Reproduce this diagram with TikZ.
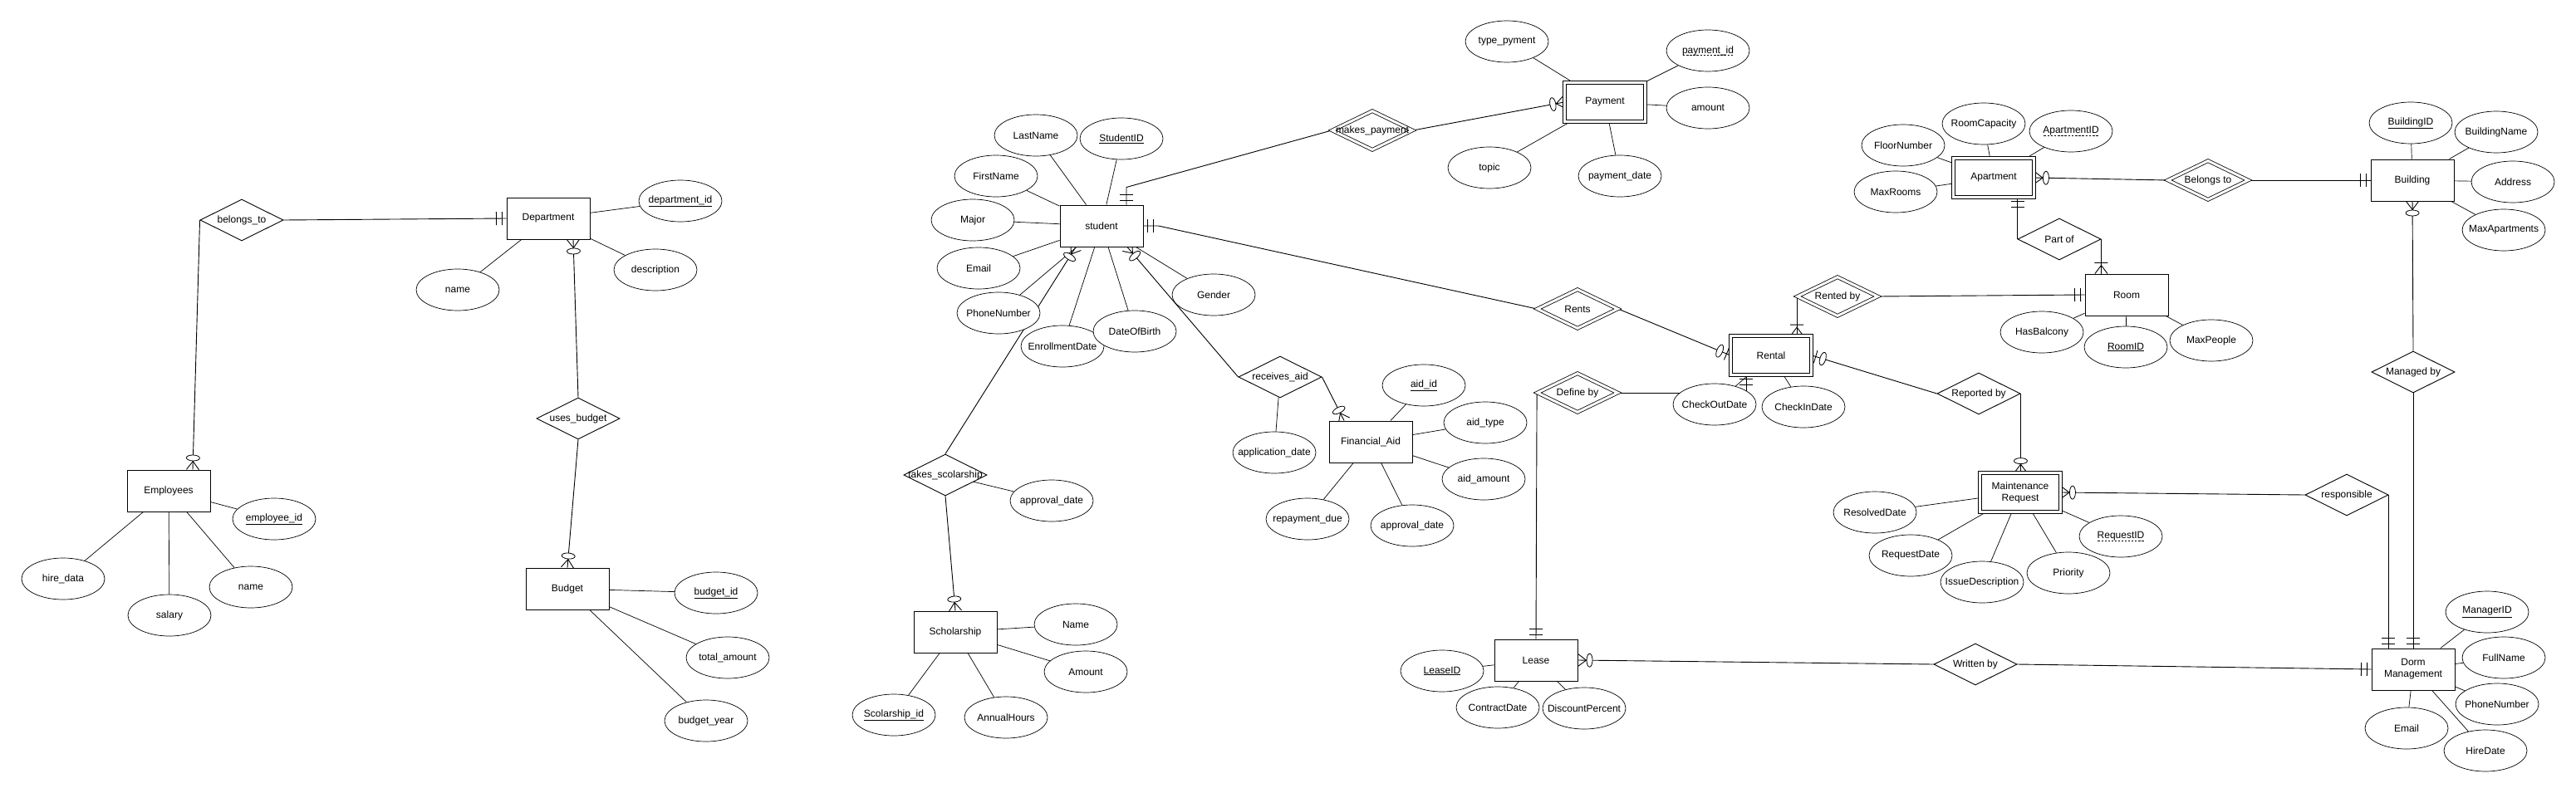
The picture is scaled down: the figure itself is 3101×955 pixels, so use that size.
\documentclass[tikz,border=0pt]{standalone}
\usepackage{fontspec}
\setmainfont{Liberation Sans}
\usetikzlibrary{shapes.geometric, decorations.markings, backgrounds}

% text that does not widen its shape
\newcommand{\zw}[1]{\makebox[0pt]{#1}}
% dashed underline for partial keys
\newcommand{\dashul}[1]{\setbox0=\hbox{#1}\rlap{\raisebox{-2.5pt}{\hbox to \wd0{\xleaders\hbox to 4pt{\hss\vrule height 0.8pt width 2.5pt\hss}\hfill}}}\box0}

\tikzset{
	ent/.style = {draw, rectangle, line width=1pt, fill=white, minimum width=100pt, minimum height=50pt, inner sep=2pt, align=center},
	weak/.style = {ent, double, double distance=3pt, line width=0.8pt, minimum width=97pt, minimum height=47pt},
	attr/.style = {draw, ellipse, line width=0.7pt, fill=white, minimum width=100pt, minimum height=50pt, inner sep=0pt},
	rel/.style = {draw, diamond, line width=0.9pt, fill=white, minimum width=100pt, minimum height=50pt, inner sep=0pt},
	idrel/.style = {rel, double, double distance=3pt, line width=0.8pt, minimum width=97pt, minimum height=47pt},
	link/.style = {line width=0.9pt},
	att/.style = {line width=0.7pt},
	endmark/.style = {postaction={decorate, decoration={markings, mark=at position 1 with {#1}}}},
	% zero or many
	zm/.style = {endmark={\draw[line width=0.9pt] (0pt,-7.5pt) -- (-10pt,0pt) -- (0pt,7.5pt);
		\draw[line width=0.8pt, fill=white] (-14pt,0pt) ellipse (3.5pt and 8pt);}},
	% one and only one
	mo/.style = {endmark={\draw[line width=0.9pt] (-5pt,-8pt) -- (-5pt,8pt) (-12pt,-8pt) -- (-12pt,8pt);}},
	% zero or one
	zo/.style = {endmark={\draw[line width=0.9pt] (-5pt,-8pt) -- (-5pt,8pt);
		\draw[line width=0.8pt, fill=white] (-14pt,0pt) ellipse (3.5pt and 8pt);}},
	% one or many
	om/.style = {endmark={\draw[line width=0.9pt] (0pt,-7.5pt) -- (-10pt,0pt) -- (0pt,7.5pt) (-13pt,-8pt) -- (-13pt,8pt);}},
}

\begin{document}
\begin{tikzpicture}[x=1pt, y=-1pt, font=\fontsize{12}{14}\selectfont]
	\useasboundingbox (0,0) rectangle (3101,955);

	% department side
	\node[rel] (belong) at (291,265) {\zw{belongs\_to}};
	\node[ent] (dept) at (660,263) {Department};
	\node[attr] (deptid) at (819,242) {\zw{\underline{department\_id}}};
	\node[attr] (dname) at (551,349) {\zw{name}};
	\node[attr] (ddesc) at (789,325) {\zw{description}};
	\node[rel] (usebud) at (696,504) {\zw{uses\_budget}};
	\node[ent] (budget) at (683,709) {Budget};
	\node[attr] (budid) at (862,714) {\zw{\underline{budget\_id}}};
	\node[attr] (budtot) at (876,792) {\zw{total\_amount}};
	\node[attr] (budyear) at (850,868) {\zw{budget\_year}};
	\node[ent] (emp) at (203,591) {Employees};
	\node[attr] (empid) at (330,625) {\zw{\underline{employee\_id}}};
	\node[attr] (hire) at (76,697) {\zw{hire\_data}};
	\node[attr] (salary) at (204,741) {\zw{salary}};
	\node[attr] (ename) at (302,707) {\zw{name}};

	% student side
	\node[ent] (stud) at (1326,272) {student};
	\node[attr] (lname) at (1247,163) {\zw{LastName}};
	\node[attr] (sid) at (1350,167) {\zw{\underline{StudentID}}};
	\node[attr] (fname) at (1199,212) {\zw{FirstName}};
	\node[attr] (major) at (1171,265) {\zw{Major}};
	\node[attr] (email) at (1178,323) {\zw{Email}};
	\node[attr] (phone) at (1202,377) {\zw{PhoneNumber}};
	\node[attr] (enroll) at (1279,417) {\zw{EnrollmentDate}};
	\node[attr] (dob) at (1366,399) {\zw{DateOfBirth}};
	\node[attr] (gender) at (1461,355) {\zw{Gender}};

	\node[idrel] (mpay) at (1652,157) {\zw{makes\_payment}};
	\node[weak] (pay) at (1932,123) {Payment};
	\node[attr] (ptype) at (1814,50) {\zw{type\_pyment}};
	\node[attr] (pid) at (2056,61) {\zw{\dashul{payment\_id}}};
	\node[attr] (pamount) at (2056,130) {\zw{amount}};
	\node[attr] (ptopic) at (1793,202) {\zw{topic}};
	\node[attr] (pdate) at (1950,212) {\zw{payment\_date}};

	\node[rel] (recaid) at (1541,454) {\zw{receives\_aid}};
	\node[attr] (appdate) at (1534,545) {\zw{application\_date}};
	\node[ent] (finaid) at (1650,532) {Financial\_Aid};
	\node[attr] (aidid) at (1714,464) {\zw{\underline{aid\_id}}};
	\node[attr] (aidtype) at (1788,509) {\zw{aid\_type}};
	\node[attr] (aidamt) at (1786,577) {\zw{aid\_amount}};
	\node[attr] (repay) at (1574,625) {\zw{repayment\_due}};
	\node[attr] (faappr) at (1700,633) {\zw{approval\_date}};

	\node[rel] (takesch) at (1138,572) {\zw{takes\_scolarship}};
	\node[attr] (schappr) at (1266,603) {\zw{approval\_date}};
	\node[ent] (schol) at (1150,761) {Scholarship};
	\node[attr] (sname) at (1295,752) {\zw{Name}};
	\node[attr] (samount) at (1307,809) {\zw{Amount}};
	\node[attr] (schid) at (1076,861) {\zw{\underline{Scolarship\_id}}};
	\node[attr] (annual) at (1211,864) {\zw{AnnualHours}};

	% rental and lease
	\node[idrel] (rents) at (1899,372) {\zw{Rents}};
	\node[weak] (rental) at (2132,428) {Rental};
	\node[attr] (checkout) at (2064,487) {\zw{CheckOutDate}};
	\node[attr] (checkin) at (2171,490) {\zw{CheckInDate}};
	\node[idrel] (defby) at (1899,473) {\zw{Define by}};
	\node[ent] (lease) at (1849,795) {Lease};
	\node[attr] (leaseid) at (1736,808) {\zw{\underline{LeaseID}}};
	\node[attr] (contract) at (1803,852) {\zw{ContractDate}};
	\node[attr] (discount) at (1907,853) {\zw{DiscountPercent}};

	% housing side
	\node[weak] (apt) at (2400,214) {Apartment};
	\node[attr] (roomcap) at (2388,149) {\zw{RoomCapacity}};
	\node[attr] (aptid) at (2493,158) {\zw{\dashul{ApartmentID}}};
	\node[attr] (floor) at (2291,175) {\zw{FloorNumber}};
	\node[attr] (maxrooms) at (2282,231) {\zw{MaxRooms}};
	\node[idrel] (belongsto) at (2658,217) {\zw{Belongs to}};
	\node[ent] (bldg) at (2904,217) {Building};
	\node[attr] (bldgid) at (2902,148) {\zw{\underline{BuildingID}}};
	\node[attr] (bldgname) at (3005,159) {\zw{BuildingName}};
	\node[attr] (address) at (3025,219) {\zw{Address}};
	\node[attr] (maxapt) at (3014,277) {\zw{MaxApartments}};
	\node[rel] (partof) at (2479,288) {\zw{Part of}};
	\node[ent] (room) at (2560,355) {Room};
	\node[idrel] (rentedby) at (2212,357) {\zw{Rented by}};
	\node[attr] (balcony) at (2458,400) {\zw{HasBalcony}};
	\node[attr] (roomid) at (2559,418) {\zw{\underline{RoomID}}};
	\node[attr] (maxpeople) at (2662,410) {\zw{MaxPeople}};
	\node[rel] (managedby) at (2905,448) {\zw{Managed by}};
	\node[rel] (reportedby) at (2382,474) {\zw{Reported by}};

	\node[weak] (mreq) at (2432,593) {Maintenance\\Request};
	\node[attr] (resolved) at (2257,617) {\zw{ResolvedDate}};
	\node[attr] (reqdate) at (2300,669) {\zw{RequestDate}};
	\node[attr] (issue) at (2386,701) {\zw{IssueDescription}};
	\node[attr] (priority) at (2490,690) {\zw{Priority}};
	\node[attr] (reqid) at (2553,646) {\zw{\dashul{RequestID}}};
	\node[rel] (respons) at (2825,596) {\zw{responsible}};
	\node[rel] (writtenby) at (2378,800) {\zw{Written by}};
	\node[ent] (dorm) at (2905,806) {Dorm\\Management};
	\node[attr] (mgrid) at (2994,737) {\zw{\underline{ManagerID}}};
	\node[attr] (fullname) at (3014,792) {\zw{FullName}};
	\node[attr] (dphone) at (3006,848) {\zw{PhoneNumber}};
	\node[attr] (demail) at (2897,877) {\zw{Email}};
	\node[attr] (hiredate) at (2992,904) {\zw{HireDate}};

	\coordinate (rentbot) at ([xshift=-30pt]rental.south);

	\begin{scope}[on background layer]
		% attributes
		\foreach \a in {deptid,dname,ddesc} \draw[att] (dept) -- (\a);
		\foreach \a in {empid,hire,salary,ename} \draw[att] (emp) -- (\a);
		\foreach \a in {budid,budtot,budyear} \draw[att] (budget) -- (\a);
		\foreach \a in {lname,sid,fname,major,email,phone,enroll,dob,gender} \draw[att] (stud) -- (\a);
		\foreach \a in {ptype,pid,pamount,ptopic,pdate} \draw[att] (pay) -- (\a);
		\foreach \a in {aidid,aidtype,aidamt,repay,faappr} \draw[att] (finaid) -- (\a);
		\foreach \a in {sname,samount,schid,annual} \draw[att] (schol) -- (\a);
		\foreach \a in {checkout,checkin} \draw[att] (rental) -- (\a);
		\foreach \a in {leaseid,contract,discount} \draw[att] (lease) -- (\a);
		\foreach \a in {roomcap,aptid,floor,maxrooms} \draw[att] (apt) -- (\a);
		\foreach \a in {bldgid,bldgname,address,maxapt} \draw[att] (bldg) -- (\a);
		\foreach \a in {balcony,roomid,maxpeople} \draw[att] (room) -- (\a);
		\foreach \a in {resolved,reqdate,issue,priority,reqid} \draw[att] (mreq) -- (\a);
		\foreach \a in {mgrid,fullname,dphone,demail,hiredate} \draw[att] (dorm) -- (\a);
		\draw[att] (recaid) -- (appdate);
		\draw[att] (takesch) -- (schappr);

		% relationships
		\draw[link, zm] (belong.west) -- ([xshift=29pt]emp.north);
		\draw[link, mo] (belong.east) -- (dept.west);
		\draw[link, zm] (usebud.north) -- ([xshift=30pt]dept.south);
		\draw[link, zm] (usebud.south) -- (budget.north);

		\draw[link, mo] (mpay.west) -- ([xshift=30pt, yshift=21pt]stud.north) -- ([xshift=30pt]stud.north);
		\draw[link, zm] (mpay.east) -- (pay.west);
		\draw[link, mo] (rents.west) -- ([xshift=18pt]stud.east) -- (stud.east);
		\draw[link, zo] (rents.east) -- (rental.west);
		\draw[link, zm] (takesch.north) -- ([xshift=-31pt]stud.south);
		\draw[link, zm] (recaid.west) -- ([xshift=31pt]stud.south);
		\draw[link, zm] (recaid.east) -- ([xshift=-32pt]finaid.north);
		\draw[link, zm] (takesch.south) -- (schol.north);

		\draw[link, mo] (defby.west) -- (lease.north);
		\draw[link, mo] (defby.east) -- (defby.east -| rentbot) -- (rentbot);
		\draw[link, zm] (writtenby.west) -- (lease.east);
		\draw[link, mo] (writtenby.east) -- (dorm.west);

		\draw[link, om] (rentedby.west) -- (rentedby.west |- rental.north);
		\draw[link, mo] (rentedby.east) -- (room.west);
		\draw[link, zm] (belongsto.west) -- (apt.east);
		\draw[link, mo] (belongsto.east) -- (bldg.west);
		\draw[link, mo] (partof.west) -- (partof.west |- apt.south);
		\draw[link, om] (partof.east) -- (partof.east |- room.north);
		\draw[link, zm] (managedby.north) -- (bldg.south);
		\draw[link, mo] (managedby.south) -- (managedby.south |- dorm.north);

		\draw[link, zo] (reportedby.west) -- (rental.east);
		\draw[link, zm] (reportedby.east) -- (reportedby.east |- mreq.north);
		\draw[link, zm] (respons.west) -- (mreq.east);
		\draw[link, mo] (respons.east) -- (respons.east |- dorm.north);
	\end{scope}
\end{tikzpicture}
\end{document}
